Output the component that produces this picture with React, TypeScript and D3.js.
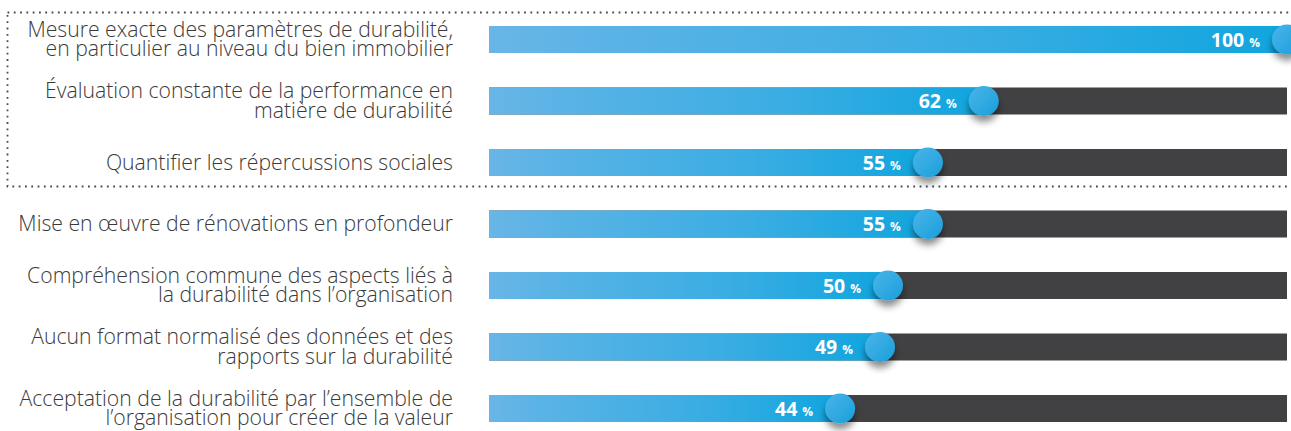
import React from "react";
import * as d3 from "d3";

const categories: string[][] = [
  ["Mesure exacte des paramètres de durabilité,", "en particulier au niveau du bien immobilier"],
  ["Évaluation constante de la performance en", "matière de durabilité"],
  ["Quantifier les répercussions sociales"],
  ["Mise en œuvre de rénovations en profondeur"],
  ["Compréhension commune des aspects liés à", "la durabilité dans l’organisation"],
  ["Aucun format normalisé des données et des", "rapports sur la durabilité"],
  ["Acceptation de la durabilité par l’ensemble de", "l’organisation pour créer de la valeur"],
];
const values: number[] = [100, 62, 55, 55, 50, 49, 44];

const W = 1291;
const H = 431;
const X0 = 489;
const X1 = 1287;
const BAR_H = 27;

export default function App() {
  const x = d3.scaleLinear().domain([0, 100]).range([X0, X1]);
  const y = d3
    .scalePoint<number>()
    .domain(values.map((_, i) => i))
    .range([39.5, 408.5]);
  const font = "'Open Sans', 'Noto Sans', sans-serif";

  return (
    <svg
      width={W}
      height={H}
      style={{ position: "fixed", left: 0, top: 0, background: "#fff" }}
    >
      <defs>
        <linearGradient id="barGrad" x1="0" x2="1" y1="0" y2="0">
          <stop offset="0" stopColor="#68b6e7" />
          <stop offset="0.15" stopColor="#5ab3e5" />
          <stop offset="0.6" stopColor="#3aade3" />
          <stop offset="1" stopColor="#10a5de" />
        </linearGradient>
        <linearGradient id="dotGrad" x1="0" x2="1" y1="0" y2="1">
          <stop offset="0" stopColor="#4ab5e9" />
          <stop offset="1" stopColor="#1a9edb" />
        </linearGradient>
        <filter id="shadow" x="-60%" y="-60%" width="220%" height="240%">
          <feDropShadow dx="0" dy="6" stdDeviation="3.5" floodColor="#000" floodOpacity="0.45" />
        </filter>
      </defs>

      <rect
        x={7.5}
        y={12.5}
        width={1400}
        height={174}
        fill="none"
        stroke="#4a4a4a"
        strokeWidth={1.8}
        strokeDasharray="1.8 4.5"
      />

      {values.map((v, i) => {
        const cy = y(i) as number;
        const lines = categories[i];
        const lh = 19.8;
        const base = cy + 7 - ((lines.length - 1) * lh) / 2;
        const xv = x(v);
        return (
          <g key={i}>
            <text
              x={453}
              textAnchor="end"
              fontFamily={font}
              fontWeight={300}
              fontSize={21.2}
              fill="#3a3a3a"
            >
              {lines.map((l, j) => (
                <tspan key={j} x={453} y={base + j * lh}>
                  {l}
                </tspan>
              ))}
            </text>
            <rect x={X0} y={cy - BAR_H / 2} width={X1 - X0} height={BAR_H} fill="#414042" />
            <rect x={X0} y={cy - BAR_H / 2} width={xv - X0} height={BAR_H} fill="url(#barGrad)" />
            <text
              x={xv - 27}
              y={cy + 7}
              textAnchor="end"
              fontFamily={font}
              fontWeight={700}
              fill="#fff"
            >
              <tspan fontSize={19.5}>{v}</tspan>
              <tspan fontSize={12} dx={5}>%</tspan>
            </text>
            <circle cx={xv} cy={cy} r={15} fill="url(#dotGrad)" filter="url(#shadow)" />
          </g>
        );
      })}
    </svg>
  );
}
